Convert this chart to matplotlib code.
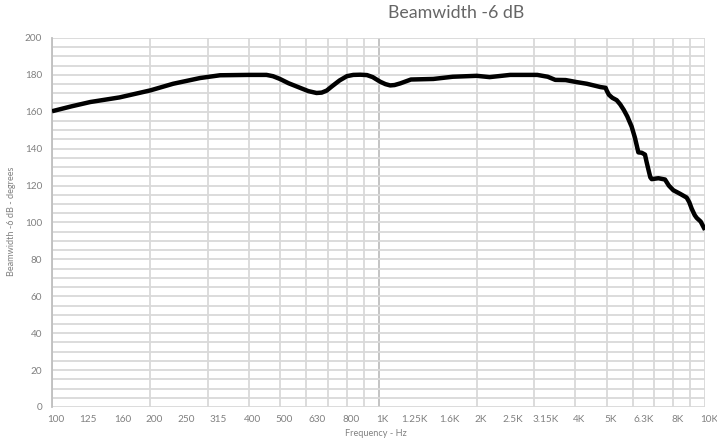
import matplotlib
matplotlib.use('Agg')
import matplotlib.pyplot as plt
import matplotlib.transforms as mtransforms

plt.rcParams['font.family'] = ['Lato', 'DejaVu Sans']

# Beamwidth readings (Hz, degrees)
freq_hz = [100, 115, 131, 161, 200, 235, 284, 327, 400, 430, 454, 475, 499, 530,
           575, 610, 646, 670, 694, 720, 760, 800, 837, 880, 922, 960, 1012, 1050,
           1086, 1120, 1166, 1257, 1472, 1688, 2000, 2189, 2531, 3063, 3298, 3479,
           3743, 4045, 4346, 4788, 4962, 5000, 5080, 5200, 5365, 5500, 5640, 5780,
           5960, 6100, 6250, 6400, 6549, 6620, 6703, 6800, 6867, 7200, 7543, 7750,
           7997, 8400, 8788, 8950, 9104, 9300, 9430, 9700, 10000]
beamwidth = [160.3, 163.0, 165.3, 167.8, 171.6, 175.2, 178.3, 179.8, 180.0, 180.0,
             180.0, 179.3, 177.8, 175.5, 173.0, 171.2, 170.2, 170.4, 171.5, 173.8,
             177.0, 179.3, 180.0, 180.1, 179.9, 178.8, 176.3, 175.0, 174.3, 174.5,
             175.4, 177.5, 177.8, 179.0, 179.5, 178.8, 180.0, 180.0, 179.0, 177.3,
             177.2, 176.1, 175.2, 173.4, 173.0, 171.5, 169.2, 167.6, 166.3, 164.0,
             161.0, 157.5, 152.0, 146.0, 138.0, 137.8, 136.8, 133.0, 129.0, 124.5,
             123.5, 124.0, 123.3, 120.0, 117.5, 115.5, 113.5, 111.0, 107.5, 104.0,
             102.5, 100.5, 96.0]

tick_freqs = [100, 125, 160, 200, 250, 315, 400, 500, 630, 800, 1000, 1250, 1600,
              2000, 2500, 3150, 4000, 5000, 6300, 8000, 10000]
tick_labels = ['100', '125', '160', '200', '250', '315', '400', '500', '630', '800',
               '1K', '1.25K', '1.6K', '2K', '2.5K', '3.15K', '4K', '5K', '6.3K',
               '8K', '10K']

grid_c = '#d9d9d9'
text_c = '#808080'

fig = plt.figure(figsize=(7.17, 4.42), dpi=100)
ax = fig.add_axes([52 / 717, 35 / 442, 653 / 717, 369 / 442])

ax.set_xscale('log')
ax.set_xlim(100, 10000)
ax.set_ylim(0, 200)

# grid lines: log decade subdivisions and every 5 degrees
minor_x = [m * d for d in (100, 1000) for m in range(1, 10)] + [10000]
for f in minor_x:
    c = '#bfbfbf' if f == 1000 else grid_c
    ax.axvline(f, color=c, lw=1.3, zorder=1)
for v in range(0, 201, 5):
    ax.axhline(v, color=grid_c, lw=1.3, zorder=1)

ax.plot(freq_hz, beamwidth, color='black', lw=3.2, solid_joinstyle='round',
        solid_capstyle='butt', zorder=3)

ax.set_xticks(tick_freqs)
ax.set_xticklabels(tick_labels)
ax.xaxis.set_minor_locator(matplotlib.ticker.NullLocator())
ax.set_yticks(range(0, 201, 20))
ax.tick_params(axis='both', length=0, labelsize=7.2, labelcolor=text_c)
ax.tick_params(axis='x', pad=6)
ax.tick_params(axis='y', pad=7)

offset = mtransforms.ScaledTranslation(4 / 100, 0, fig.dpi_scale_trans)
for lbl in ax.get_xticklabels():
    lbl.set_transform(lbl.get_transform() + offset)

for s in ['top', 'right', 'bottom']:
    ax.spines[s].set_visible(False)
ax.spines['left'].set_color('#bfbfbf')
ax.spines['left'].set_linewidth(1.3)

fig.text(456 / 717, 1 - 13 / 442, 'Beamwidth -6 dB', ha='center', va='center',
         fontsize=12.8, color='#666666')
fig.text(376 / 717, 1 - 434 / 442, 'Frequency - Hz', ha='center', va='center',
         fontsize=6.6, color=text_c)
fig.text(12 / 717, 1 - 221 / 442, 'Beamwidth -6 dB - degrees', ha='center',
         va='center', rotation=90, fontsize=6.6, color=text_c)

fig.savefig('out.png', dpi=100)
